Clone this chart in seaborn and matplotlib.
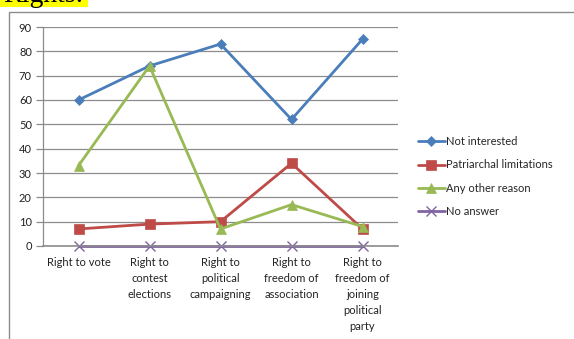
import matplotlib
matplotlib.use("Agg")
import matplotlib.pyplot as plt
from matplotlib.patches import Rectangle
import seaborn as sns
import numpy as np

categories = [
    "Right to vote",
    "Right to\ncontest\nelections",
    "Right to\npolitical\ncampaigning",
    "Right to\nfreedom of\nassociation",
    "Right to\nfreedom of\njoining\npolitical\nparty",
]
not_interested = [60, 74, 83, 52, 85]
patriarchal_limitations = [7, 9, 10, 34, 7]
any_other_reason = [33, 74, 7, 17, 8]
no_answer = [0, 0, 0, 0, 0]

series_names = ["Not interested", "Patriarchal limitations", "Any other reason", "No answer"]
series_values = [not_interested, patriarchal_limitations, any_other_reason, no_answer]
colors = ["#4A7EBB", "#BE4B48", "#98B954", "#8064A2"]
markers = ["D", "s", "^", "x"]
marker_sizes = [5, 7, 7, 7]

sns.set_theme(style="white")
plt.rcParams["font.family"] = ["Lato", "DejaVu Sans"]

fig = plt.figure(figsize=(5.74, 3.39), dpi=100)
W, H = 574, 339
ax = fig.add_axes([43 / W, 1 - 246 / H, (398 - 43) / W, (246 - 27) / H])

x = np.arange(len(categories))
for name, vals, c, m, ms in zip(series_names, series_values, colors, markers, marker_sizes):
    if m == "x":
        # sits on the zero line: drawn beneath the axis spine, markers unclipped
        kw = dict(markeredgewidth=1.0, markeredgecolor=c, zorder=2)
    else:
        kw = dict(markeredgecolor=c, markeredgewidth=0.5, zorder=5)
    sns.lineplot(x=x, y=vals, ax=ax, color=c, marker=m, markersize=ms,
                 linewidth=2.0, label=name, clip_on=False, **kw)

ax.set_xlim(-0.5, len(categories) - 0.5)
ax.set_ylim(0, 90)
ax.set_yticks(np.arange(0, 91, 10))
ax.yaxis.grid(True, color="#8c8c8c", linewidth=0.9)
ax.xaxis.grid(False)
for side in ["top", "right"]:
    ax.spines[side].set_visible(False)
ax.spines["left"].set_color("#8c8c8c")
ax.spines["bottom"].set_color("#8c8c8c")
ax.spines["left"].set_linewidth(0.9)
ax.spines["bottom"].set_linewidth(1.2)
ax.spines["bottom"].set_zorder(3)

ax.set_xticks(x)
ax.set_xticklabels(categories, fontsize=8, color="#222222", linespacing=1.55)
ax.tick_params(axis="x", which="major", length=0, pad=8)
ax.set_xticks(np.arange(-0.5, len(categories), 1), minor=True)
ax.tick_params(axis="x", which="minor", length=4, width=0.9, color="#8c8c8c", direction="out")
ax.tick_params(axis="y", length=5, width=0.9, color="#8c8c8c", direction="out", labelsize=8,
               labelcolor="#222222", pad=3, left=True)
ax.set_xlabel("")
ax.set_ylabel("")

ax.legend(loc="center left", bbox_to_anchor=(418 / W, 1 - 176.5 / H),
          bbox_transform=fig.transFigure, frameon=False, fontsize=8,
          handlelength=2.4, handletextpad=0.15, labelspacing=1.1,
          borderpad=0, borderaxespad=0)

# chart frame
fig.add_artist(Rectangle((9 / W, -0.2), 1.2, 1.2 - 12 / H, transform=fig.transFigure,
                         fill=False, edgecolor="#8c8c8c", linewidth=1.0))

# heading above the chart (highlighted)
fig.add_artist(Rectangle((0, 1 - 7 / H), 88 / W, 7 / H, transform=fig.transFigure,
                         facecolor="#FFFF00", edgecolor="none", zorder=0))
fig.text(3 / W, 1 - 1.5 / H, "Rights:", fontsize=20, family=["Liberation Serif"],
         va="baseline", ha="left", color="black", zorder=1)

fig.savefig("out.png", dpi=100)
